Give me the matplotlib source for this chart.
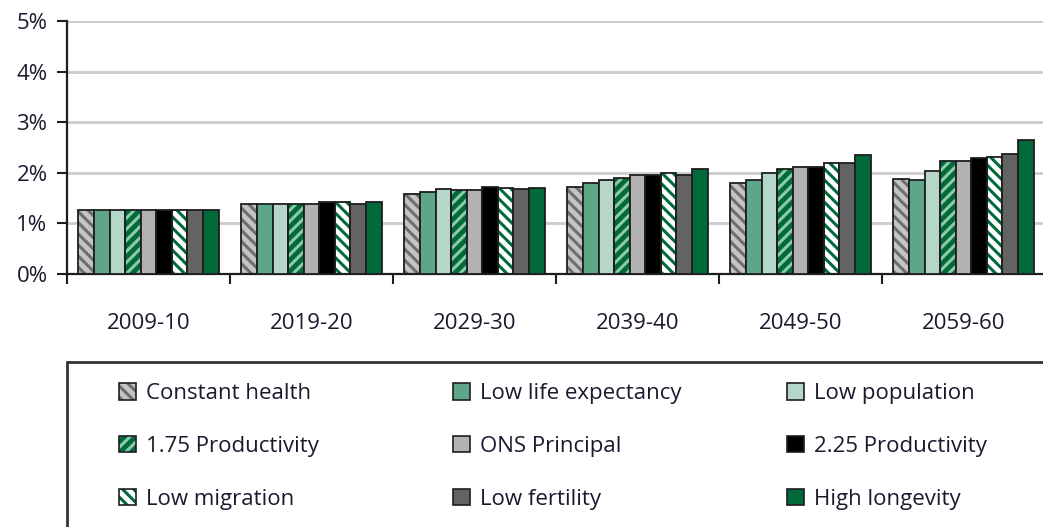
import matplotlib.pyplot as plt
from matplotlib.patches import Patch, Rectangle
import numpy as np

plt.rcParams['font.family'] = ['Open Sans', 'DejaVu Sans']
plt.rcParams['hatch.linewidth'] = 2.2

periods = ['2009-10', '2019-20', '2029-30', '2039-40', '2049-50', '2059-60']
scenarios = ['Constant health', 'Low life expectancy', 'Low population',
             '1.75 Productivity', 'ONS Principal', '2.25 Productivity',
             'Low migration', 'Low fertility', 'High longevity']

# percent of GDP
constant_health = [1.26, 1.39, 1.59, 1.71, 1.80, 1.87]
low_life_exp = [1.26, 1.39, 1.63, 1.80, 1.86, 1.86]
low_population = [1.26, 1.39, 1.67, 1.86, 2.00, 2.04]
prod_175 = [1.26, 1.39, 1.66, 1.90, 2.08, 2.24]
ons_principal = [1.26, 1.39, 1.66, 1.95, 2.11, 2.23]
prod_225 = [1.26, 1.43, 1.71, 1.96, 2.12, 2.29]
low_migration = [1.26, 1.42, 1.69, 1.99, 2.19, 2.32]
low_fertility = [1.26, 1.38, 1.67, 1.95, 2.19, 2.37]
high_longevity = [1.26, 1.42, 1.70, 2.07, 2.36, 2.65]

series = [constant_health, low_life_exp, low_population, prod_175, ons_principal,
          prod_225, low_migration, low_fertility, high_longevity]

# (fill, hatch colour, hatch)
styles = [
    ('#c4c4c4', '#6e6e6e', '\\\\\\'),
    ('#5fa588', None, None),
    ('#b4d7c9', None, None),
    ('#006a3a', '#8ccaa8', '///'),
    ('#b2b2b2', None, None),
    ('#000000', None, None),
    ('#ffffff', '#006a3a', '\\\\\\'),
    ('#636363', None, None),
    ('#006a3a', None, None),
]
outline = '#1e1e1e'

fig = plt.figure(figsize=(10.43, 5.27), dpi=100)
ax = fig.add_axes([67 / 1043, 1 - 274 / 527, 978 / 1043, 253 / 527])

x = np.arange(len(periods))
w = 0.0955
for i, (vals, (fc, hc, h)) in enumerate(zip(series, styles)):
    pos = x + (i - 4) * w
    if h:
        ax.bar(pos, vals, w, color=fc, edgecolor=hc, hatch=h, linewidth=0, zorder=2)
        ax.bar(pos, vals, w, fill=False, edgecolor=outline, linewidth=1.3, zorder=3)
    else:
        ax.bar(pos, vals, w, color=fc, edgecolor=outline, linewidth=1.3, zorder=3)

ax.set_xlim(-0.5, 5.5)
ax.set_ylim(0, 5)
ax.set_yticks(range(6))
ax.set_yticklabels([f'{v}%' for v in range(6)])
ax.set_xticks(x)
ax.set_xticklabels(periods)
ax.set_xticks(np.arange(-0.5, 6.0, 1), minor=True)
ax.tick_params(axis='x', which='major', length=0, pad=28, labelsize=16)
ax.tick_params(axis='x', which='minor', length=7, width=1.5, direction='out')
ax.tick_params(axis='y', length=7, width=1.5, pad=7, labelsize=16)
for t in ax.get_xticklabels() + ax.get_yticklabels():
    t.set_color('#1a1a2e')
ax.tick_params(axis='both', which='both', color='#1e1e1e')

ax.grid(axis='y', color='#cccccc', linewidth=2, zorder=0)
ax.set_axisbelow(True)
for s in ['top', 'right']:
    ax.spines[s].set_visible(False)
for s in ['left', 'bottom']:
    ax.spines[s].set_linewidth(1.6)
    ax.spines[s].set_color('#1e1e1e')

# legend frame running off the bottom/right
fig.patches.append(Rectangle((67 / 1043, -0.05), 1.0, (527 - 362) / 527 + 0.05,
                             transform=fig.transFigure, fill=False,
                             edgecolor='#333333', linewidth=2))


def handle(fc, hc, h):
    if h:
        return (Patch(facecolor=fc, edgecolor=hc, hatch=h, linewidth=0),
                Patch(fill=False, edgecolor=outline, linewidth=1.2))
    return Patch(facecolor=fc, edgecolor=outline, linewidth=1.2)


col_x = [108, 442, 776]
for c in range(3):
    idx = [c, c + 3, c + 6]
    fig.legend([handle(*styles[i]) for i in idx], [scenarios[i] for i in idx],
               loc='upper left', bbox_to_anchor=(col_x[c] / 1043, 1 - 372 / 527),
               frameon=False, fontsize=16, handlelength=0.75, handleheight=0.75,
               handletextpad=0.45, labelspacing=1.43, borderpad=0,
               labelcolor='#1a1a2e')

fig.savefig('out.png', dpi=100)
